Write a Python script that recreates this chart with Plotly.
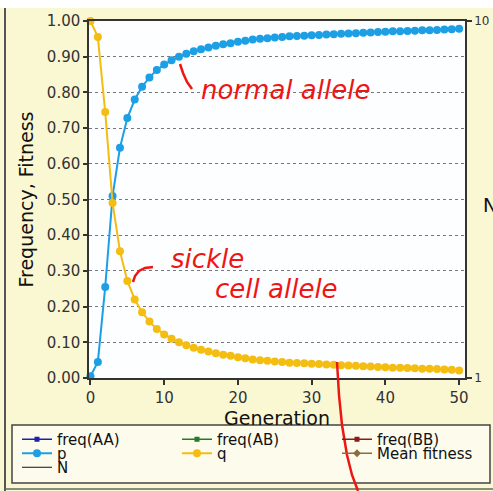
import plotly.graph_objects as go

# ---------------- data ----------------
generation = list(range(51))
p_values = [0.005, 0.045, 0.255, 0.510, 0.645, 0.728, 0.780, 0.816, 0.842, 0.863,
            0.878, 0.890, 0.900, 0.908, 0.915, 0.921, 0.926, 0.931, 0.935, 0.938,
            0.942, 0.945, 0.948, 0.950, 0.952, 0.954, 0.955, 0.957, 0.958, 0.959,
            0.960, 0.961, 0.962, 0.963, 0.964, 0.965, 0.966, 0.967, 0.968, 0.969,
            0.970, 0.971, 0.971, 0.972, 0.973, 0.974, 0.974, 0.975, 0.976, 0.977,
            0.978]
q_values = [1.000, 0.955, 0.745, 0.490, 0.355, 0.272, 0.220, 0.184, 0.158, 0.137,
            0.122, 0.110, 0.100, 0.092, 0.085, 0.079, 0.074, 0.069, 0.065, 0.062,
            0.058, 0.055, 0.052, 0.050, 0.048, 0.046, 0.045, 0.043, 0.042, 0.041,
            0.040, 0.039, 0.038, 0.037, 0.036, 0.035, 0.034, 0.033, 0.032, 0.031,
            0.030, 0.029, 0.029, 0.028, 0.027, 0.026, 0.026, 0.025, 0.024, 0.023,
            0.021]
x_ticks = [0, 10, 20, 30, 40, 50]
y_ticks = [round(0.1 * i, 1) for i in range(11)]
n_ticks = [1, 10]
n_tick_labels = ["1", "10"]

# ---------------- geometry ----------------
W, H = 493, 491
L, R, T, B = 89, 28, 21, 113
PW, PH = W - L - R, H - T - B


def px(x):
    return (x - L) / PW


def py(y):
    return (H - B - y) / PH


FONT = "DejaVu Sans"
BLUE = "#1c9fe4"
YELLOW = "#f4bd12"
RED = "#ee1515"

fig = go.Figure()

# legend cells: (name, colour, symbol, legend id)
empty_series = [("freq(AA)", "#1b22a8", "square", "legend"),
                ("freq(AB)", "#237a2a", "square", "legend2"),
                ("freq(BB)", "#8a1c1c", "square", "legend3")]
for name, col, sym, leg in empty_series:
    fig.add_trace(go.Scatter(x=[None], y=[None], name=name, mode="lines+markers",
                             line=dict(color=col, width=1.5),
                             marker=dict(symbol=sym, size=5, color=col),
                             legend=leg))

fig.add_trace(go.Scatter(x=generation, y=p_values, name="p", mode="lines+markers",
                         line=dict(color=BLUE, width=2),
                         marker=dict(size=8, color=BLUE),
                         cliponaxis=False, legend="legend4"))
fig.add_trace(go.Scatter(x=generation, y=q_values, name="q", mode="lines+markers",
                         line=dict(color=YELLOW, width=2),
                         marker=dict(size=8, color=YELLOW),
                         cliponaxis=False, legend="legend5"))
fig.add_trace(go.Scatter(x=[None], y=[None], name="Mean fitness", mode="lines+markers",
                         line=dict(color="#8c6b3c", width=1.5),
                         marker=dict(symbol="diamond", size=6, color="#8c6b3c"),
                         legend="legend6"))
fig.add_trace(go.Scatter(x=[None], y=[None], name="N", mode="lines",
                         line=dict(color="#111111", width=1),
                         yaxis="y2", legend="legend7"))


def leg(x_px, top_px):
    return dict(x=px(x_px), y=py(top_px), xanchor="left", yanchor="top",
                orientation="v", bgcolor="rgba(0,0,0,0)", borderwidth=0,
                font=dict(family=FONT, size=15, color="#111"),
                itemclick=False, itemdoubleclick=False)


shapes = [
    dict(type="rect", xref="paper", yref="paper", x0=px(0), x1=px(W), y0=py(0), y1=py(8),
         fillcolor="white", line=dict(width=0), layer="below"),
    dict(type="line", xref="paper", yref="paper", x0=px(5), x1=px(5), y0=py(8), y1=py(491),
         line=dict(color="#555", width=2)),
    dict(type="line", xref="paper", yref="paper", x0=px(5), x1=px(W), y0=py(489), y1=py(489),
         line=dict(color="#666", width=1.5)),
    dict(type="rect", xref="paper", yref="paper", x0=px(12), x1=px(490), y0=py(425), y1=py(483),
         fillcolor="#fcfbec", line=dict(color="#444", width=1.5), layer="below"),
]


def path(points):
    return "M " + " L ".join(f"{px(a):.5f},{py(b):.5f}" for a, b in points)


for pts in [
    [(180, 64), (183, 73), (187, 82), (192, 89)],
    [(153, 267), (145, 268), (139, 271), (135, 276), (133, 282)],
    [(337, 362), (339, 395), (342, 425), (347, 455), (352, 475), (358, 491)],
]:
    shapes.append(dict(type="path", xref="paper", yref="paper", path=path(pts),
                       line=dict(color=RED, width=2.5)))

hand = dict(family=FONT, size=26, color=RED, style="italic")
annotations = [
    dict(text="normal allele", x=px(285), y=py(90), xref="paper", yref="paper",
         xanchor="center", yanchor="middle", showarrow=False, font=hand),
    dict(text="sickle", x=px(207), y=py(259), xref="paper", yref="paper",
         xanchor="center", yanchor="middle", showarrow=False, font=hand),
    dict(text="cell allele", x=px(276), y=py(289), xref="paper", yref="paper",
         xanchor="center", yanchor="middle", showarrow=False, font=hand),
    dict(text="N", x=px(481), y=py(205), xref="paper", yref="paper", xanchor="left",
         yanchor="middle", showarrow=False, font=dict(family=FONT, size=19, color="#111")),
]

fig.update_layout(
    width=W, height=H,
    margin=dict(l=L, r=R, t=T, b=B, autoexpand=False),
    paper_bgcolor="#faf7d3",
    plot_bgcolor="#fdfeff",
    font=dict(family=FONT, color="#222"),
    showlegend=True,
    legend=leg(17, 423), legend2=leg(177, 423), legend3=leg(337, 423),
    legend4=leg(17, 437), legend5=leg(177, 437), legend6=leg(337, 437),
    legend7=leg(17, 451),
    xaxis=dict(range=[-0.2, 50.8], tickvals=x_ticks, showgrid=False, zeroline=False,
               ticks="outside", ticklen=5, tickcolor="#333", tickwidth=1.5,
               showline=True, linecolor="#333", linewidth=1.5, mirror=True,
               tickfont=dict(size=15, color="#333"),
               title=dict(text="Generation", font=dict(size=19, color="#111"), standoff=4)),
    yaxis=dict(range=[0, 1], tickvals=y_ticks, tickformat=".2f", zeroline=False,
               showgrid=True, gridcolor="#777", griddash="dot", gridwidth=1,
               ticks="outside", ticklen=4, tickcolor="#333", tickwidth=1.5,
               showline=True, linecolor="#333", linewidth=1.5,
               tickfont=dict(size=15, color="#333"),
               title=dict(text="Frequency, Fitness", font=dict(size=19, color="#111"),
                          standoff=8)),
    yaxis2=dict(overlaying="y", side="right", type="log", range=[0, 1],
                tickvals=n_ticks, ticktext=n_tick_labels, showgrid=False, zeroline=False,
                ticks="outside", ticklen=5, tickcolor="#333", tickwidth=1.5,
                showline=True, linecolor="#333", linewidth=1.5,
                tickfont=dict(size=12, color="#333")),
    shapes=shapes,
    annotations=annotations,
)

fig.write_html("out.html", config={"displayModeBar": False},
               post_script="document.body.style.margin='0';")
